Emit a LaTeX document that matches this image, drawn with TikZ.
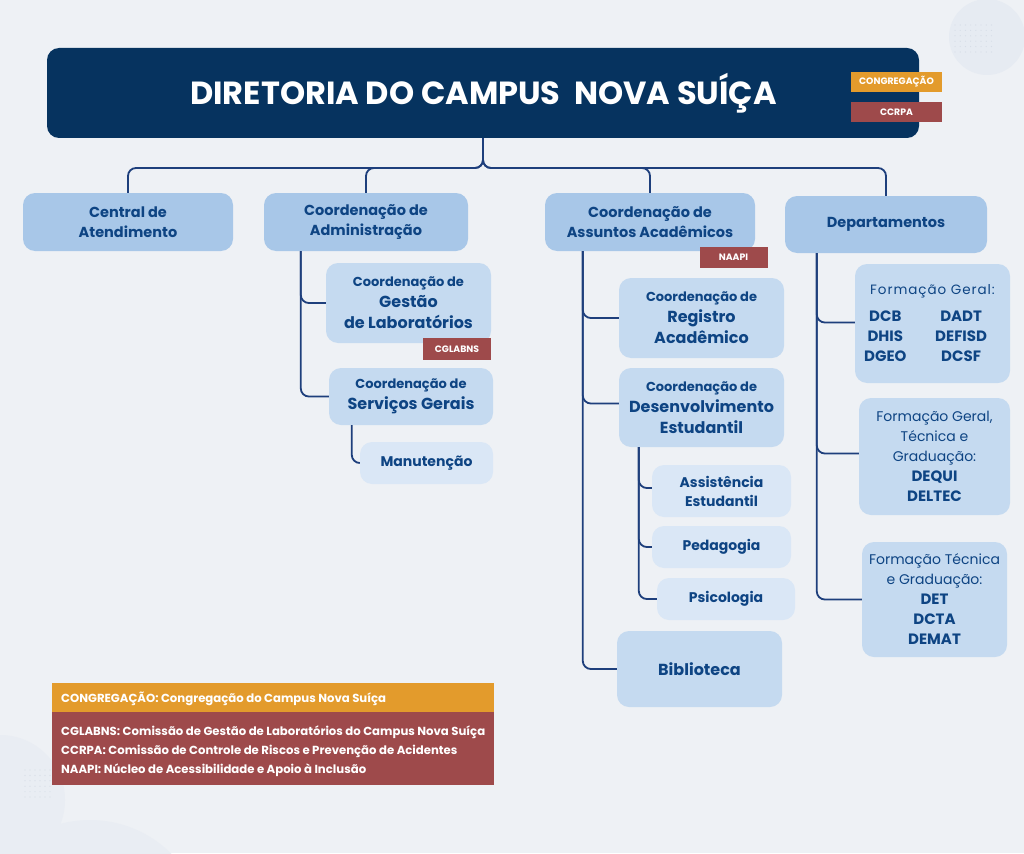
\documentclass[tikz,border=0pt]{standalone}
\usepackage{fontspec}
\setmainfont{Poppins}
\usetikzlibrary{calc}
\definecolor{bg}{HTML}{EEF1F5}
\definecolor{deco}{HTML}{E6EBF2}
\definecolor{dotc}{HTML}{D5DCE6}
\definecolor{navy}{HTML}{06335F}
\definecolor{lvA}{HTML}{A8C7E8}
\definecolor{lvB}{HTML}{C5DAF0}
\definecolor{lvC}{HTML}{DAE7F6}
\definecolor{txt}{HTML}{0E4483}
\definecolor{linec}{HTML}{1E3F7C}
\definecolor{orng}{HTML}{E39B2C}
\definecolor{rust}{HTML}{9E4A4B}
\newcommand{\fsz}[2]{\fontsize{#1}{#2}\selectfont}
\begin{document}
\begin{tikzpicture}[x=1pt,y=-1pt,
  boxbase/.style={rounded corners=12pt, text=txt, align=center, inner sep=0pt},
  boxA/.style={boxbase, fill=lvA, font=\bfseries\fsz{14.5}{20}},
  boxB/.style={boxbase, fill=lvB, font=\bfseries\fsz{15.5}{21}},
  boxC/.style={boxbase, fill=lvC, font=\bfseries\fsz{14}{19}},
  deptbox/.style={boxbase, fill=lvB, font=\fsz{14}{20}},
  tag/.style={inner sep=0pt, text=white, font=\bfseries\fsz{9.3}{11}},
  conn/.style={draw=linec, line width=1.8pt, rounded corners=8pt},
  legtext/.style={anchor=base west, inner sep=0pt, text=white, font=\bfseries\fsz{11.7}{14}}
]
\fill[bg] (0,0) rectangle (1024,853);
\useasboundingbox (0,0) rectangle (1024,853);
% decorations
\fill[deco] (987,37) circle (38);
\foreach \i in {0,...,7} \foreach \j in {0,...,5} \fill[dotc] (955+\i*5.2,25+\j*5.4) circle (0.6);
\fill[deco!60!bg] (0,800) circle (65);
\fill[deco!60!bg] (90,935) circle (115);
\foreach \i in {0,...,5} \foreach \j in {0,...,5} \fill[dotc] (25+\i*5,770+\j*5.4) circle (0.6);

% title
\node[fill=navy, rounded corners=12pt, minimum width=872pt, minimum height=90pt, inner sep=0pt] (title) at (483,93) {};
\node[text=white, font=\bfseries\fsz{32}{38}] (ttext) at (483.5,93) {DIRETORIA DO CAMPUS\ \ NOVA SUÍÇA};
\node[tag, fill=orng, minimum width=91pt, minimum height=20pt] (congr) at (896.5,82) {CONGREGAÇÃO};
\node[tag, fill=rust, minimum width=91pt, minimum height=20pt] (ccrpa) at (896.5,112) {CCRPA};

% level 1
\node[boxA, minimum width=210pt, minimum height=58pt] (central) at (128,222) {Central de\\Atendimento};
\node[boxA, minimum width=204pt, minimum height=58pt] (adm) at (366,222) {Coordenação de\\Administração};
\node[boxA, minimum width=210pt, minimum height=58pt] (aa) at (650,222) {Coordenação de\\Assuntos Acadêmicos};
\node[boxA, minimum width=202pt, minimum height=57pt] (dept) at (886,224.5) {Departamentos};

\coordinate (hub) at (483,168);
\draw[conn] (title.south) -- (hub) -| (central.north);
\draw[conn] (title.south) -- (hub) -| (adm.north);
\draw[conn] (title.south) -- (hub) -| (aa.north);
\draw[conn] (title.south) -- (hub) -| (dept.north);

% administracao branch
\node[boxB, minimum width=165pt, minimum height=80pt] (gestao) at (408.5,303)
  {{\fsz{13}{20}Coordenação de}\\{\fsz{16}{22}Gestão}\\{\fsz{16}{22}de Laboratórios}};
\node[tag, fill=rust, minimum width=68pt, minimum height=22pt] (cglabns) at (457,349) {CGLABNS};
\node[boxB, minimum width=164pt, minimum height=57pt] (servicos) at (411,396.5)
  {{\fsz{13}{20}Coordenação de}\\{\fsz{16}{22}Serviços Gerais}};
\node[boxC, minimum width=133pt, minimum height=42pt] (manut) at (426.5,463) {Manutenção};

\draw[conn] ([xshift=37pt]adm.south west) |- (gestao.west);
\draw[conn] ([xshift=37pt]adm.south west) |- (servicos.west);
\draw[conn] ([xshift=23pt]servicos.south west) |- (manut.west);

% assuntos academicos branch
\node[tag, fill=rust, minimum width=68pt, minimum height=21pt] (naapi) at (733.5,257) {NAAPI};
\node[boxB, minimum width=165pt, minimum height=80pt] (registro) at (701.5,318)
  {{\fsz{13}{20}Coordenação de}\\{\fsz{16}{21}Registro}\\{\fsz{16}{21}Acadêmico}};
\node[boxB, minimum width=165pt, minimum height=79pt] (desenv) at (701.5,407.5)
  {{\fsz{13}{20}Coordenação de}\\{\fsz{16}{21}Desenvolvimento}\\{\fsz{16}{21}Estudantil}};
\node[boxC, minimum width=139pt, minimum height=52pt] (assist) at (721.5,491) {Assistência\\Estudantil};
\node[boxC, minimum width=139pt, minimum height=42pt] (pedag) at (721.5,547) {Pedagogia};
\node[boxC, minimum width=138pt, minimum height=42pt] (psico) at (726,599) {Psicologia};
\node[boxB, minimum width=165pt, minimum height=76pt, font=\bfseries\fsz{16}{21}] (biblio) at (699.5,669) {Biblioteca};

\draw[conn] ([xshift=38pt]aa.south west) |- (registro.west);
\draw[conn] ([xshift=38pt]aa.south west) |- ([yshift=4pt]desenv.west);
\draw[conn] ([xshift=38pt]aa.south west) |- (biblio.west);
\draw[conn] ([xshift=20pt]desenv.south west) |- ([yshift=3pt]assist.west);
\draw[conn] ([xshift=20pt]desenv.south west) |- (pedag.west);
\draw[conn] ([xshift=20pt]desenv.south west) |- (psico.west);

% departamentos branch
\node[deptbox, minimum width=155pt, minimum height=119pt] (fg) at (932.5,323.5)
  {\begin{tabular}{@{}c@{\hspace{15pt}}c@{}}
   \multicolumn{2}{c}{\fsz{13.5}{20}\addfontfeatures{LetterSpace=7}Formação Geral:}\\[7pt]
   \bfseries\fsz{15}{19.5}DCB & \bfseries\fsz{15}{19.5}DADT\\
   \bfseries\fsz{15}{19.5}DHIS & \bfseries\fsz{15}{19.5}DEFISD\\
   \bfseries\fsz{15}{19.5}DGEO & \bfseries\fsz{15}{19.5}DCSF
   \end{tabular}};
\node[deptbox, minimum width=151pt, minimum height=117pt] (fgt) at (934.5,456.5)
  {Formação Geral,\\Técnica e\\Graduação:\\{\bfseries\fsz{15}{20}DEQUI}\\{\bfseries\fsz{15}{20}DELTEC}};
\node[deptbox, minimum width=145pt, minimum height=115pt] (ft) at (934.5,599.5)
  {Formação Técnica\\e Graduação:\\{\bfseries\fsz{15}{20}DET}\\{\bfseries\fsz{15}{20}DCTA}\\{\bfseries\fsz{15}{20}DEMAT}};

\draw[conn] ([xshift=32pt]dept.south west) |- ([yshift=1pt]fg.west);
\draw[conn] ([xshift=32pt]dept.south west) |- ([yshift=3pt]fgt.west);
\draw[conn] ([xshift=32pt]dept.south west) |- (ft.west);

% legend
\node[fill=orng, minimum width=442pt, minimum height=29pt, inner sep=0pt] (legO) at (273,697.5) {};
\node[fill=rust, minimum width=442pt, minimum height=73pt, inner sep=0pt] (legR) at (273,748.5) {};
\node[legtext] (l1) at (61,702) {CONGREGAÇÃO: Congregação do Campus Nova Suíça};
\node[legtext] (l2) at (61,735) {CGLABNS: Comissão de Gestão de Laboratórios do Campus Nova Suíça};
\node[legtext] (l3) at (61,754) {CCRPA: Comissão de Controle de Riscos e Prevenção de Acidentes};
\node[legtext] (l4) at (61,773) {NAAPI: Núcleo de Acessibilidade e Apoio à Inclusão};
\end{tikzpicture}
\end{document}
